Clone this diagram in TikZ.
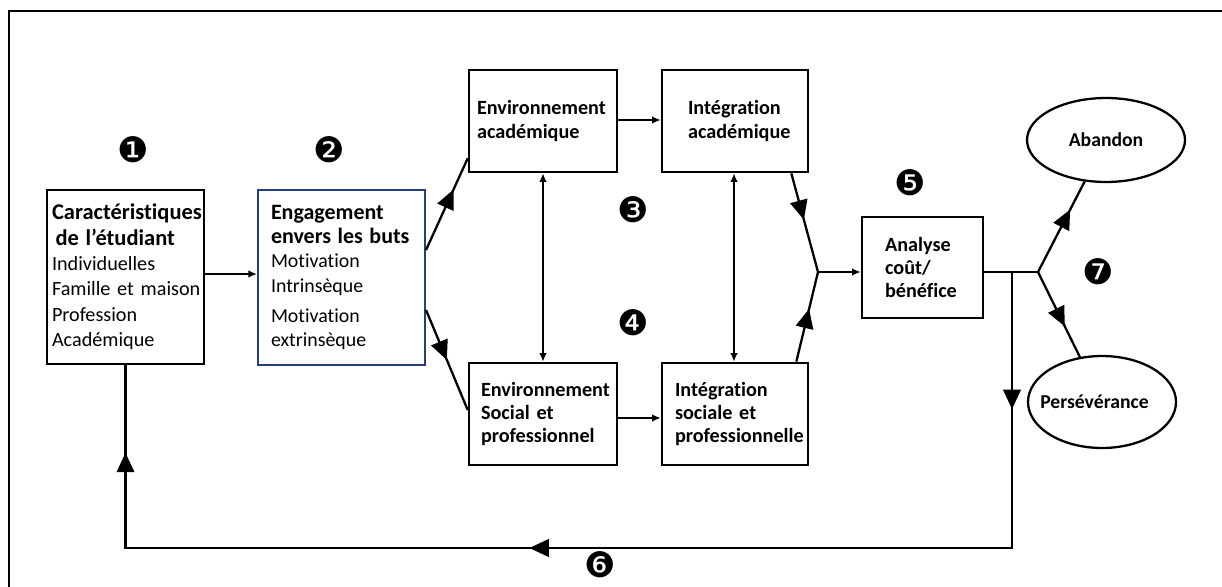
\documentclass[tikz,border=0pt]{standalone}
\usepackage{fontspec}
\setmainfont{Carlito}[Ligatures={TeX,NoCommon}]
\newfontfamily\dingfont{DejaVu Sans}
\usetikzlibrary{positioning, arrows.meta, decorations.markings, shapes.geometric}

\definecolor{engblue}{RGB}{38,62,122}

\tikzset{
  bigtip/.tip={Triangle[length=3.9mm,width=3.5mm]},
  smalltip/.tip={Latex[length=1.7mm,width=1.5mm]},
  box/.style={draw, line width=1.5pt, align=left, minimum height=2.04cm,
    font=\bfseries\fontsize{11.5}{13.2}\selectfont},
  result/.style={draw, ellipse, line width=1.3pt, inner sep=0pt,
    font=\bfseries\fontsize{11.2}{13}\selectfont},
  num/.style={inner sep=0pt, font=\dingfont\fontsize{20}{20}\selectfont},
  flow/.style={line width=1.3pt},
  link/.style={line width=1.1pt, -smalltip},
  dlink/.style={line width=1.1pt, smalltip-smalltip},
  midtip/.style={postaction={decorate}, decoration={markings,
    mark=at position #1 with {\arrow{bigtip}}}},
}

\begin{document}
\begin{tikzpicture}[x=0.02cm, y=-0.02cm]
  \useasboundingbox (0,0) rectangle (1222,587);
  % frame
  \draw[line width=1pt] (8,11) -- (1222,11);
  \draw[line width=1.4pt] (9,11) -- (9,587);

  % boxes
  \node[box, font=\fontsize{11.5}{14.5}\selectfont, text width=2.94cm, inner xsep=0.1cm,
    minimum height=3.48cm] (carac) at (125.5,277)
    {{\fontsize{12.8}{14.5}\selectfont\bfseries \mbox{Caractéristiques}\\ \hspace*{2pt}de l'étudiant}\\
     Individuelles\\ \mbox{Famille et maison}\\ Profession\\ Académique};
  \node[box, draw=engblue, line width=1.2pt, font=\fontsize{11.3}{13.8}\selectfont,
    text width=2.82cm, inner xsep=0.26cm, minimum height=3.5cm] (engag) at (341.5,277.5)
    {{\fontsize{12.5}{13.8}\selectfont\bfseries Engagement\\ \mbox{envers les buts}}\\ Motivation\\
     Intrinsèque\\[0.3em] Motivation\\ extrinsèque};
  \node[box, text width=2.64cm, inner xsep=0.16cm] (envacad) at (543,121)
    {Environnement\\ académique};
  \node[box, text width=1.88cm, inner xsep=0.52cm] (intacad) at (735,121)
    {Intégration\\ académique};
  \node[box, text width=2.48cm, inner xsep=0.24cm] (envsoc) at (543,414)
    {Environnement\\ Social et\\ professionnel};
  \node[box, text width=2.4cm, inner xsep=0.26cm] (intsoc) at (735,414)
    {Intégration\\ sociale et\\ professionnelle};
  \node[box, text width=1.5cm, inner xsep=0.46cm, minimum height=2.02cm] (analyse) at (922.5,267.5)
    {Analyse\\ coût/\\ bénéfice};
  \node[result, minimum width=3.16cm, minimum height=1.68cm] (aband) at (1106,140)
    {\makebox[0pt]{Abandon}};
  \node[result, minimum width=2.96cm, minimum height=1.84cm] (persev) at (1102,402)
    {\makebox[0pt]{\hspace*{-0.3cm}Persévérance}};

  % numbers
  \node[num] (n1) at (133,150) {❶};
  \node[num] (n2) at (329,150) {❷};
  \node[num] (n3) at (633,210) {❸};
  \node[num] (n4) at (633,323) {❹};
  \node[num] (n5) at (910,183) {❺};
  \node[num] (n6) at (600,565) {❻};
  \node[num] (n7) at (1098,272) {❼};

  % junctions
  \coordinate (jl) at (818,272);
  \coordinate (jr) at (1038,272);
  \coordinate (split) at (1012,272);
  \coordinate (back) at (1012,548);
  \coordinate (backl) at (carac.south |- back);

  % connectors
  \draw[link] (carac.east |- 0,274) -- (engag.west |- 0,274);
  \draw[flow, midtip=0.66] ([yshift=0.55cm]engag.east) -- ([yshift=0.3cm]envacad.south west);
  \draw[flow, midtip=0.5] ([yshift=-0.65cm]engag.east) -- ([yshift=0.08cm]envsoc.west);
  \draw[link] (envacad.east |- 0,120) -- (intacad.west |- 0,120);
  \draw[link] (envsoc.east |- 0,418) -- (intsoc.west |- 0,418);
  \draw[dlink] (envacad) -- (envsoc);
  \draw[dlink] ([xshift=-0.02cm]intacad.south) -- ([xshift=-0.02cm]intsoc.north);
  \draw[flow, midtip=0.47] ([xshift=-0.36cm]intacad.south east) -- (jl);
  \draw[flow, midtip=0.59] ([xshift=-0.26cm]intsoc.north east) -- (jl);
  \draw[link] (jl) -- (analyse.west |- jl);
  \draw[flow] (analyse.east |- jr) -- (jr);
  \draw[flow, midtip=0.69] (jr) -- (aband);
  \draw[flow, midtip=0.64] (jr) -- (persev);
  \draw[flow, postaction={decorate}, decoration={markings,
      mark=at position 0.102 with {\arrow{bigtip}},
      mark=at position 0.564 with {\arrow{bigtip}},
      mark=at position 0.935 with {\arrow{bigtip}}}]
    (split) -- (back) -- (backl) -- (carac.south);
\end{tikzpicture}
\end{document}
